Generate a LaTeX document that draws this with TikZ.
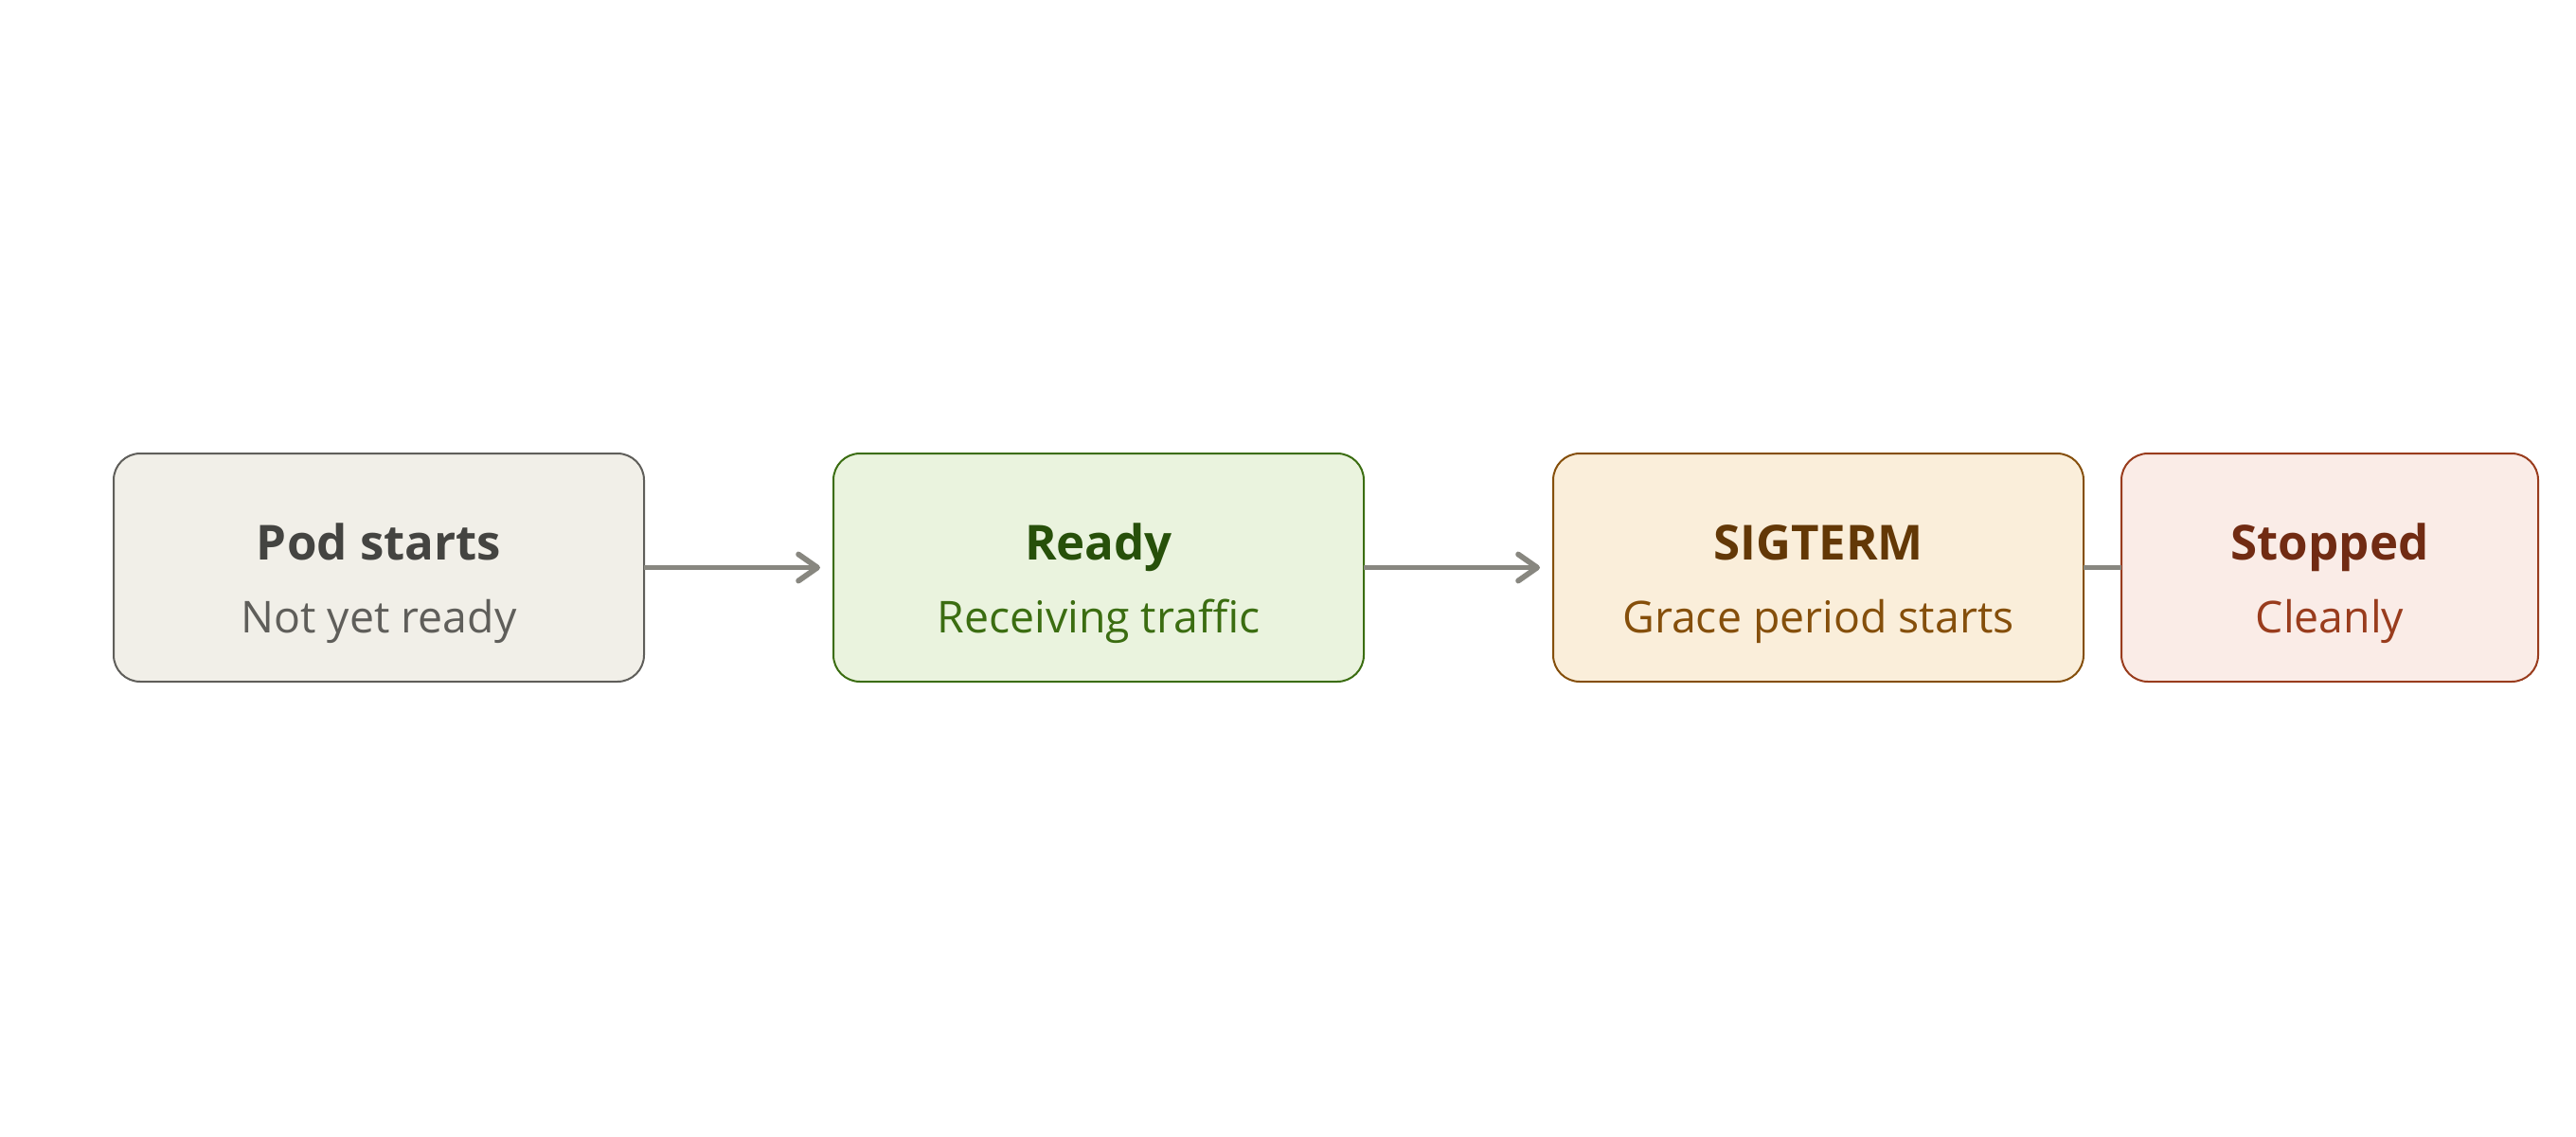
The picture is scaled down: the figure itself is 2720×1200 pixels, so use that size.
\documentclass[tikz,border=0pt]{standalone}
\usepackage{fontspec}
\setmainfont{Open Sans}
\usetikzlibrary{arrows.meta}
\definecolor{gfill}{HTML}{F1EFE8}
\definecolor{gline}{HTML}{5F5E5A}
\definecolor{gtitle}{HTML}{444441}
\definecolor{nfill}{HTML}{EAF3DE}
\definecolor{nline}{HTML}{3B6D11}
\definecolor{ntitle}{HTML}{27500A}
\definecolor{afill}{HTML}{FAEEDA}
\definecolor{aline}{HTML}{854F0B}
\definecolor{atitle}{HTML}{633806}
\definecolor{rfill}{HTML}{FAECE7}
\definecolor{rline}{HTML}{993C1D}
\definecolor{rtitle}{HTML}{712B13}
\definecolor{arrowgray}{HTML}{888780}
\tikzset{
  box/.style={draw, rounded corners=14pt, line width=1pt, minimum height=120.5pt, inner sep=0pt, outer sep=0pt, anchor=west},
  ttl/.style={anchor=base, font=\fontsize{25.5}{30}\selectfont\bfseries},
  subt/.style={anchor=base, font=\fontsize{23.2}{28}\selectfont},
  conn/.style={draw=arrowgray, line width=2.9pt, line cap=butt},
  arr/.style={conn, -{Straight Barb[length=10pt,width=14pt,line cap=round,line join=round]}}
}
\begin{document}
\begin{tikzpicture}[x=0.5pt,y=-0.5pt]
\useasboundingbox (0,0) rectangle (2720,1200);
\node[box, minimum width=280pt, fill=gfill, draw=gline] (b1) at (120,599.5) {};
\node[box, minimum width=280pt, fill=nfill, draw=nline] (b2) at (880,599.5) {};
\node[box, minimum width=280pt, fill=afill, draw=aline] (b3) at (1640,599.5) {};
\node[box, minimum width=220pt, fill=rfill, draw=rline] (b4) at (2240,599.5) {};
\draw[arr] (b1.east) -- ([xshift=-7pt]b2.west);
\draw[arr] (b2.east) -- ([xshift=-7pt]b3.west);
\draw[conn] (b3.east) -- (b4.west);
\node[ttl, text=gtitle] (t1) at (400,591) {Pod starts};
\node[subt, text=gline] (s1) at (400,668) {Not yet ready};
\node[ttl, text=ntitle] (t2) at (1160,591) {Ready};
\node[subt, text=nline] (s2) at (1160,668) {Receiving traffic};
\node[ttl, text=atitle] (t3) at (1920,591) {SIGTERM};
\node[subt, text=aline] (s3) at (1920,668) {Grace period starts};
\node[ttl, text=rtitle] (t4) at (2460,591) {Stopped};
\node[subt, text=rline] (s4) at (2460,668) {Cleanly};
\end{tikzpicture}
\end{document}
